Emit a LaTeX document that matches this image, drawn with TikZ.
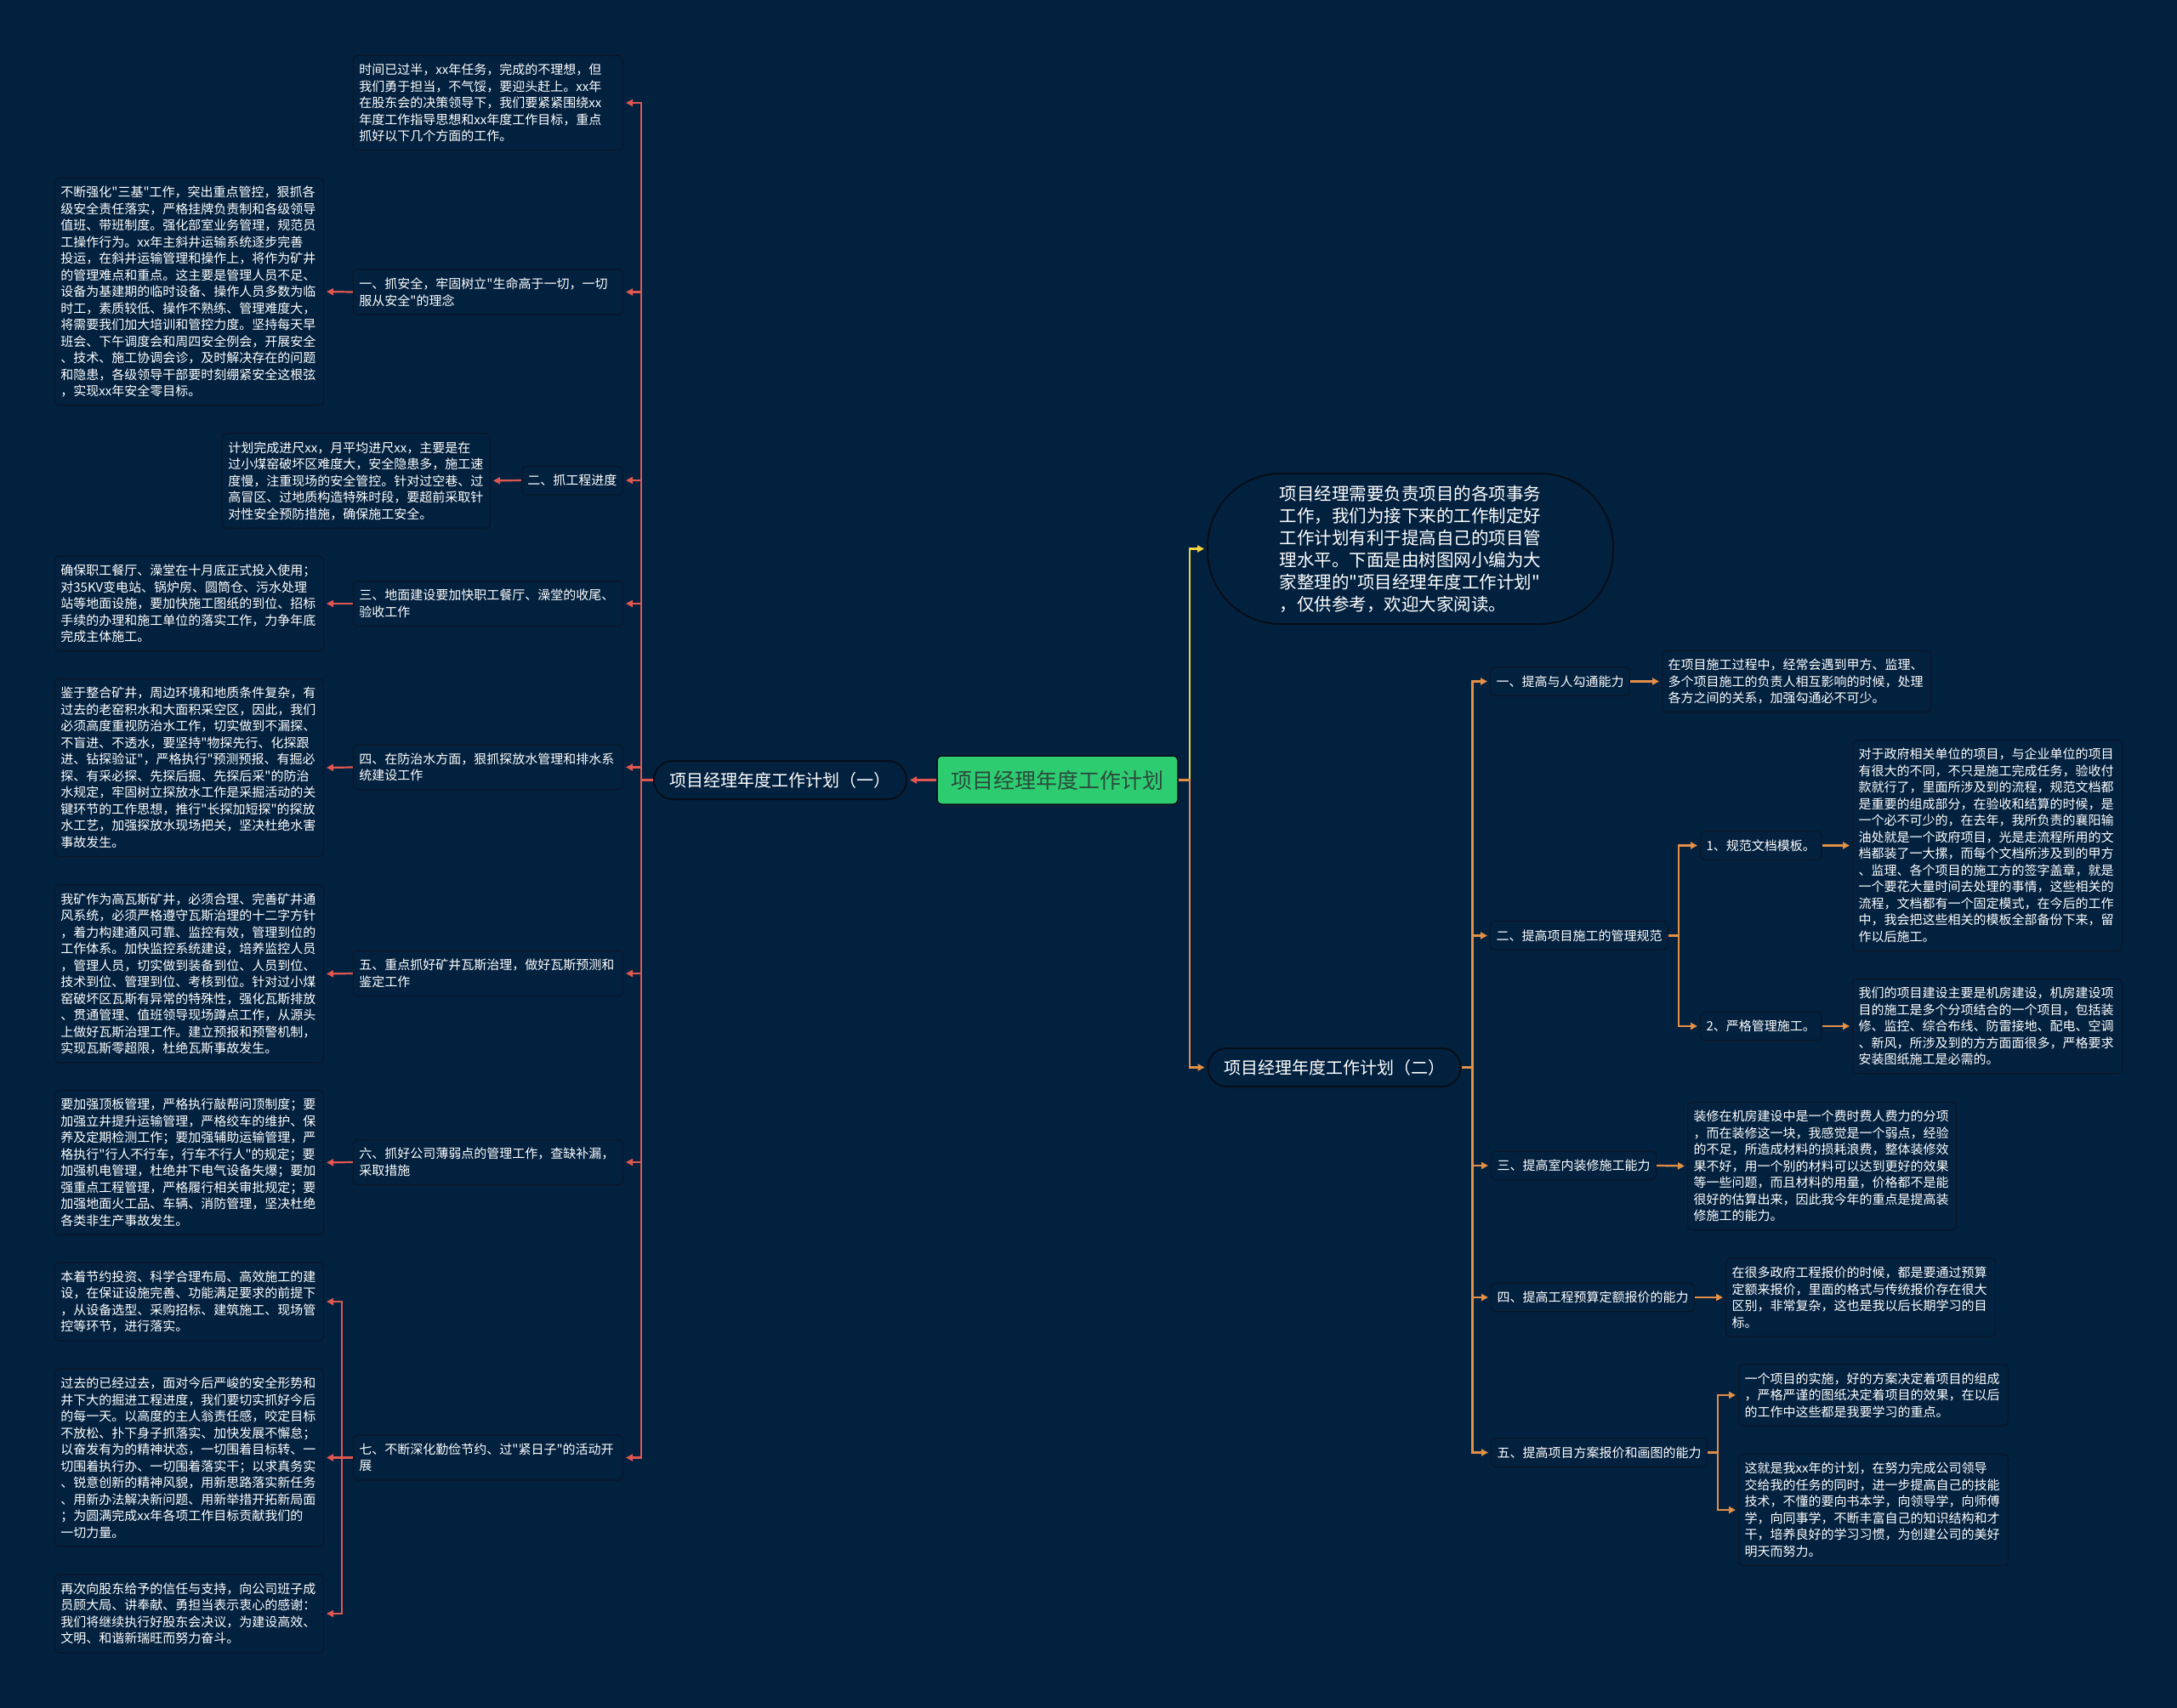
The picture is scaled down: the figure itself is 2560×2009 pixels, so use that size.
\documentclass[tikz,border=0pt]{standalone}
\usepackage{fontspec}
\setmainfont{Noto Sans CJK SC}
\newfontfamily\cjkf{Noto Sans CJK SC}
\usetikzlibrary{arrows.meta}
\definecolor{bgc}{HTML}{02213F}
\definecolor{bdr}{HTML}{0A1628}
\definecolor{lvlb}{HTML}{070E18}
\definecolor{redl}{HTML}{E0574F}
\definecolor{orgl}{HTML}{E38F45}
\definecolor{yell}{HTML}{F2D33E}
\definecolor{rootg}{HTML}{2ECC71}
\definecolor{roott}{HTML}{2A4A3C}
\tikzset{
  box/.style={draw=bdr, fill=bgc, line width=1.2pt, rounded corners=5pt, text=white,
    align=left, inner xsep=7pt, inner ysep=0pt, font=\cjkf\fontsize{15}{19.5}\selectfont},
  nl/.style={minimum height={#1*19.5pt+14pt}},
  tw/.style={text width=#1},
  lvlnode/.style={draw=lvlb, fill=bgc, line width=2pt, rounded corners=22pt, text=white,
    minimum height=45pt, minimum width=297pt, inner xsep=0pt, font=\cjkf\fontsize{20}{24}\selectfont},
  rootnode/.style={draw=lvlb, fill=rootg, line width=1.5pt, rounded corners=5pt, text=roott,
    minimum width=283pt, minimum height=57pt, inner xsep=0pt, font=\cjkf\fontsize{25}{30}\selectfont},
  intronode/.style={draw=lvlb, fill=bgc, line width=2pt, rounded corners=86pt, text=white,
    minimum width=477pt, minimum height=177pt, align=left, font=\cjkf\fontsize{20.5}{26}\selectfont},
  rline/.style={draw=redl, line width=2.2pt, -{Triangle[length=8pt,width=8pt]}, shorten >=3pt},
  oline/.style={draw=orgl, line width=2.2pt, -{Triangle[length=8pt,width=8pt]}, shorten >=3pt},
  yline/.style={draw=yell, line width=2.2pt, -{Triangle[length=8pt,width=8pt]}, shorten >=3pt}
}
\begin{document}
\begin{tikzpicture}[x=1pt,y=-1pt]
\useasboundingbox (0,0) rectangle (2560,2009);
\fill[bgc] (0,0) rectangle (2560,2009);

% root and first level
\node[rootnode] (root) at (1243.5,917.5) {项目经理年度工作计划};
\node[lvlnode] (A) at (917.5,917.5) {项目经理年度工作计划（一）};
\node[lvlnode] (B) at (1569,1255.5) {项目经理年度工作计划（二）};
\node[intronode] (E) at (1658.5,645.5) {项目经理需要负责项目的各项事务\\工作，我们为接下来的工作制定好\\工作计划有利于提高自己的项目管\\理水平。下面是由树图网小编为大\\家整理的"项目经理年度工作计划"\\，仅供参考，欢迎大家阅读。};

% ---------- left branch ----------
\node[box, tw=303pt, nl=5, anchor=east] (a0) at (733,121) {时间已过半，xx年任务，完成的不理想，但\\我们勇于担当，不气馁，要迎头赶上。xx年\\在股东会的决策领导下，我们要紧紧围绕xx\\年度工作指导思想和xx年度工作目标，重点\\抓好以下几个方面的工作。};

\node[box, tw=303pt, nl=2, anchor=east] (a1) at (733,343.5) {一、抓安全，牢固树立"生命高于一切，一切\\服从安全"的理念};
\node[box, tw=302pt, nl=13, anchor=east] (a1L) at (381,343) {不断强化"三基"工作，突出重点管控，狠抓各\\级安全责任落实，严格挂牌负责制和各级领导\\值班、带班制度。强化部室业务管理，规范员\\工操作行为。xx年主斜井运输系统逐步完善\\投运，在斜井运输管理和操作上，将作为矿井\\的管理难点和重点。这主要是管理人员不足、\\设备为基建期的临时设备、操作人员多数为临\\时工，素质较低、操作不熟练、管理难度大，\\将需要我们加大培训和管控力度。坚持每天早\\班会、下午调度会和周四安全例会，开展安全\\、技术、施工协调会诊，及时解决存在的问题\\和隐患，各级领导干部要时刻绷紧安全这根弦\\，实现xx年安全零目标。};

\node[box, nl=1, anchor=east] (a2) at (733,565) {二、抓工程进度};
\node[box, tw=301pt, nl=5, anchor=east] (a2L) at (577,565.5) {计划完成进尺xx，月平均进尺xx，主要是在\\过小煤窑破坏区难度大，安全隐患多，施工速\\度慢，注重现场的安全管控。针对过空巷、过\\高冒区、过地质构造特殊时段，要超前采取针\\对性安全预防措施，确保施工安全。};

\node[box, tw=303pt, nl=2, anchor=east] (a3) at (733,710) {三、地面建设要加快职工餐厅、澡堂的收尾、\\验收工作};
\node[box, tw=302pt, nl=5, anchor=east] (a3L) at (381,710) {确保职工餐厅、澡堂在十月底正式投入使用；\\对35KV变电站、锅炉房、圆筒仓、污水处理\\站等地面设施，要加快施工图纸的到位、招标\\手续的办理和施工单位的落实工作，力争年底\\完成主体施工。};

\node[box, tw=303pt, nl=2, anchor=east] (a4) at (733,902.5) {四、在防治水方面，狠抓探放水管理和排水系\\统建设工作};
\node[box, tw=302pt, nl=10, anchor=east] (a4L) at (381,903) {鉴于整合矿井，周边环境和地质条件复杂，有\\过去的老窑积水和大面积采空区，因此，我们\\必须高度重视防治水工作，切实做到不漏探、\\不盲进、不透水，要坚持"物探先行、化探跟\\进、钻探验证"，严格执行"预测预报、有掘必\\探、有采必探、先探后掘、先探后采"的防治\\水规定，牢固树立探放水工作是采掘活动的关\\键环节的工作思想，推行"长探加短探"的探放\\水工艺，加强探放水现场把关，坚决杜绝水害\\事故发生。};

\node[box, tw=303pt, nl=2, anchor=east] (a5) at (733,1145) {五、重点抓好矿井瓦斯治理，做好瓦斯预测和\\鉴定工作};
\node[box, tw=302pt, nl=10, anchor=east] (a5L) at (381,1145.5) {我矿作为高瓦斯矿井，必须合理、完善矿井通\\风系统，必须严格遵守瓦斯治理的十二字方针\\，着力构建通风可靠、监控有效，管理到位的\\工作体系。加快监控系统建设，培养监控人员\\，管理人员，切实做到装备到位、人员到位、\\技术到位、管理到位、考核到位。针对过小煤\\窑破坏区瓦斯有异常的特殊性，强化瓦斯排放\\、贯通管理、值班领导现场蹲点工作，从源头\\上做好瓦斯治理工作。建立预报和预警机制，\\实现瓦斯零超限，杜绝瓦斯事故发生。};

\node[box, tw=303pt, nl=2, anchor=east] (a6) at (733,1367) {六、抓好公司薄弱点的管理工作，查缺补漏，\\采取措施};
\node[box, tw=302pt, nl=8, anchor=east] (a6L) at (381,1367.5) {要加强顶板管理，严格执行敲帮问顶制度；要\\加强立井提升运输管理，严格绞车的维护、保\\养及定期检测工作；要加强辅助运输管理，严\\格执行"行人不行车，行车不行人"的规定；要\\加强机电管理，杜绝井下电气设备失爆；要加\\强重点工程管理，严格履行相关审批规定；要\\加强地面火工品、车辆、消防管理，坚决杜绝\\各类非生产事故发生。};

\node[box, tw=303pt, nl=2, anchor=east] (a7) at (733,1714.5) {七、不断深化勤俭节约、过"紧日子"的活动开\\展};
\node[box, tw=302pt, nl=4, anchor=east] (a7a) at (381,1531) {本着节约投资、科学合理布局、高效施工的建\\设，在保证设施完善、功能满足要求的前提下\\，从设备选型、采购招标、建筑施工、现场管\\控等环节，进行落实。};
\node[box, tw=302pt, nl=10, anchor=east] (a7b) at (381,1714.5) {过去的已经过去，面对今后严峻的安全形势和\\井下大的掘进工程进度，我们要切实抓好今后\\的每一天。以高度的主人翁责任感，咬定目标\\不放松、扑下身子抓落实、加快发展不懈怠；\\以奋发有为的精神状态，一切围着目标转、一\\切围着执行办、一切围着落实干；以求真务实\\、锐意创新的精神风貌，用新思路落实新任务\\、用新办法解决新问题、用新举措开拓新局面\\；为圆满完成xx年各项工作目标贡献我们的\\一切力量。};
\node[box, tw=302pt, nl=4, anchor=east] (a7c) at (381,1898) {再次向股东给予的信任与支持，向公司班子成\\员顾大局、讲奉献、勇担当表示衷心的感谢：\\我们将继续执行好股东会决议，为建设高效、\\文明、和谐新瑞旺而努力奋斗。};

% ---------- right branch ----------
\node[box, nl=1, anchor=west] (b1) at (1752,801.5) {一、提高与人勾通能力};
\node[box, tw=302pt, nl=3, anchor=west] (b1L) at (1954,801.5) {在项目施工过程中，经常会遇到甲方、监理、\\多个项目施工的负责人相互影响的时候，处理\\各方之间的关系，加强勾通必不可少。};

\node[box, nl=1, anchor=west] (b2) at (1752,1100.5) {二、提高项目施工的管理规范};
\node[box, nl=1, anchor=west] (b21) at (1999,994.5) {1、规范文档模板。};
\node[box, tw=303pt, nl=12, anchor=west] (b21L) at (2178,994.5) {对于政府相关单位的项目，与企业单位的项目\\有很大的不同，不只是施工完成任务，验收付\\款就行了，里面所涉及到的流程，规范文档都\\是重要的组成部分，在验收和结算的时候，是\\一个必不可少的，在去年，我所负责的襄阳输\\油处就是一个政府项目，光是走流程所用的文\\档都装了一大摞，而每个文档所涉及到的甲方\\、监理、各个项目的施工方的签字盖章，就是\\一个要花大量时间去处理的事情，这些相关的\\流程，文档都有一个固定模式，在今后的工作\\中，我会把这些相关的模板全部备份下来，留\\作以后施工。};
\node[box, nl=1, anchor=west] (b22) at (1999,1207) {2、严格管理施工。};
\node[box, tw=303pt, nl=5, anchor=west] (b22L) at (2178,1207) {我们的项目建设主要是机房建设，机房建设项\\目的施工是多个分项结合的一个项目，包括装\\修、监控、综合布线、防雷接地、配电、空调\\、新风，所涉及到的方方面面很多，严格要求\\安装图纸施工是必需的。};

\node[box, nl=1, anchor=west] (b3) at (1753,1371) {三、提高室内装修施工能力};
\node[box, tw=302pt, nl=7, anchor=west] (b3L) at (1984,1371.5) {装修在机房建设中是一个费时费人费力的分项\\，而在装修这一块，我感觉是一个弱点，经验\\的不足，所造成材料的损耗浪费，整体装修效\\果不好，用一个别的材料可以达到更好的效果\\等一些问题，而且材料的用量，价格都不是能\\很好的估算出来，因此我今年的重点是提高装\\修施工的能力。};

\node[box, nl=1, anchor=west] (b4) at (1753,1526) {四、提高工程预算定额报价的能力};
\node[box, tw=303pt, nl=4, anchor=west] (b4L) at (2029,1526) {在很多政府工程报价的时候，都是要通过预算\\定额来报价，里面的格式与传统报价存在很大\\区别，非常复杂，这也是我以后长期学习的目\\标。};

\node[box, nl=1, anchor=west] (b5) at (1753,1708.5) {五、提高项目方案报价和画图的能力};
\node[box, tw=303pt, nl=3, anchor=west] (b5a) at (2044,1641) {一个项目的实施，好的方案决定着项目的组成\\，严格严谨的图纸决定着项目的效果，在以后\\的工作中这些都是我要学习的重点。};
\node[box, tw=303pt, nl=6, anchor=west] (b5b) at (2044,1776) {这就是我xx年的计划，在努力完成公司领导\\交给我的任务的同时，进一步提高自己的技能\\技术，不懂的要向书本学，向领导学，向师傅\\学，向同事学，不断丰富自己的知识结构和才\\干，培养良好的学习习惯，为创建公司的美好\\明天而努力。};

% ---------- connectors: left ----------
\draw[rline] (root.west) -- (A.east);
\foreach \n in {a0,a1,a2,a3,a4,a5,a6,a7}
  \draw[rline] (A.west) -- ++(-14,0) |- (\n.east);
\draw[rline] (a1.west) -- (a1L.east);
\draw[rline] (a2.west) -- (a2L.east);
\draw[rline] (a3.west) -- (a3L.east);
\draw[rline] (a4.west) -- (a4L.east);
\draw[rline] (a5.west) -- (a5L.east);
\draw[rline] (a6.west) -- (a6L.east);
\foreach \n in {a7a,a7b,a7c}
  \draw[rline] (a7.west) -- ++(-13,0) |- (\n.east);

% ---------- connectors: right ----------
\draw[yline] (root.east) -- ++(13,0) |- (E.west);
\draw[oline] (root.east) -- ++(13,0) |- (B.west);
\foreach \n in {b1,b2,b3,b4,b5}
  \draw[oline] (B.east) -- ++(13,0) |- (\n.west);
\draw[oline] (b1.east) -- (b1L.west);
\foreach \n in {b21,b22}
  \draw[oline] (b2.east) -- ++(12,0) |- (\n.west);
\draw[oline] (b21.east) -- (b21L.west);
\draw[oline] (b22.east) -- (b22L.west);
\draw[oline] (b3.east) -- (b3L.west);
\draw[oline] (b4.east) -- (b4L.west);
\foreach \n in {b5a,b5b}
  \draw[oline] (b5.east) -- ++(12,0) |- (\n.west);
\end{tikzpicture}
\end{document}
